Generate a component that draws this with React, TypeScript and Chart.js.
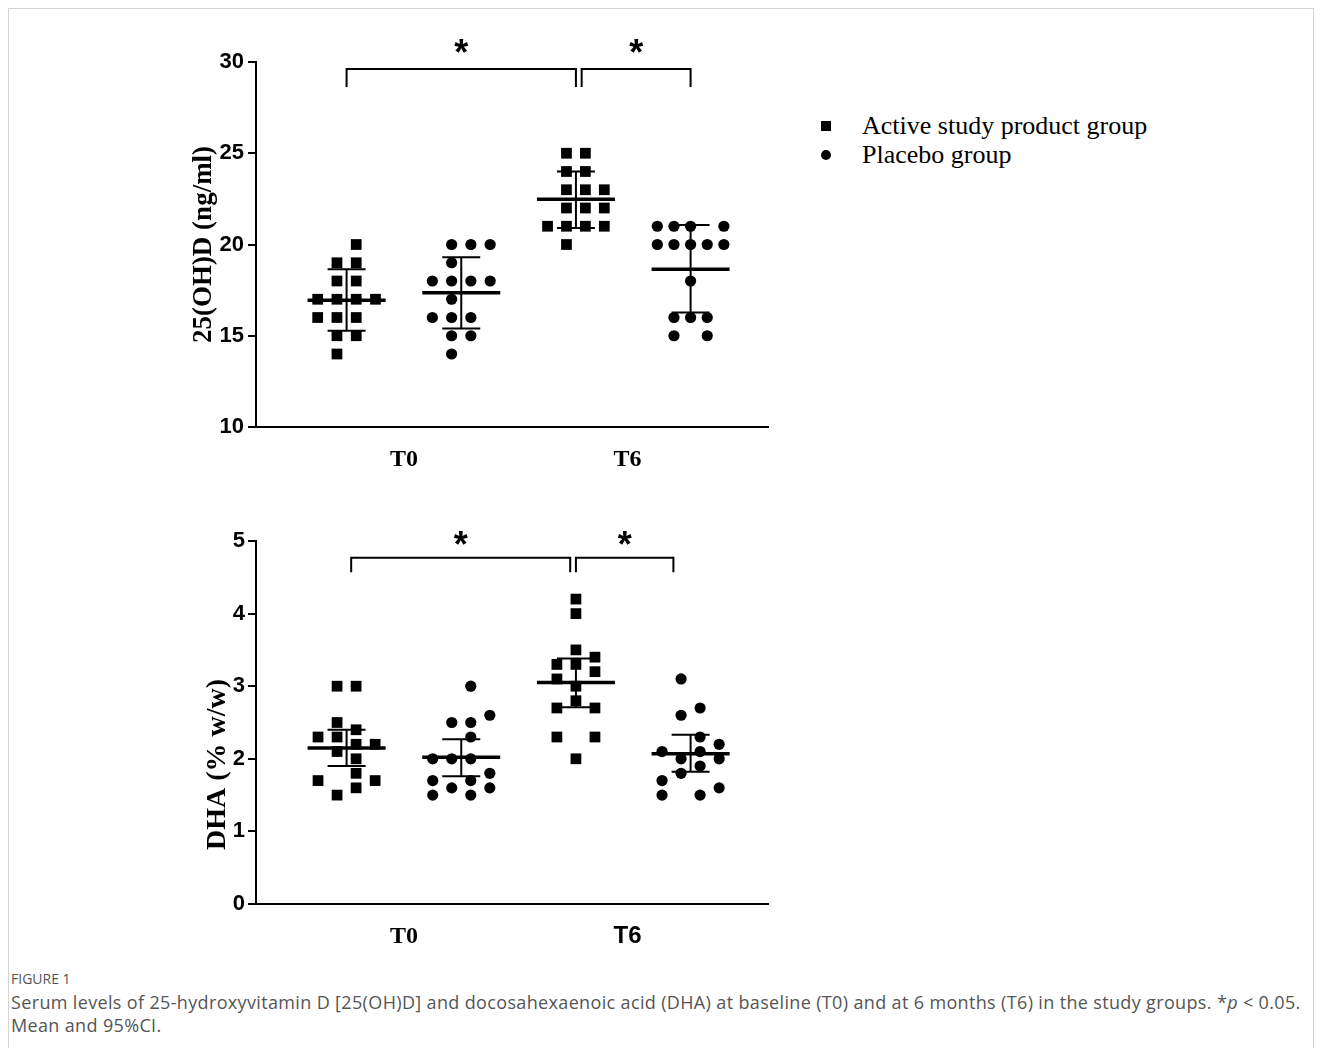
import React, { useEffect, useRef } from 'react';
import { Chart, registerables } from 'chart.js';

Chart.register(...registerables);

// ---------------- data ----------------
const groupNames = ['Active study product group', 'Placebo group'];
const timeLabels = ['T0', 'T6'];
const timeTickValues = [1.5, 3.45];
// order of groups along x: T0 active, T0 placebo, T6 active, T6 placebo
const groupCenters = [1, 2, 3, 4];

// 25(OH)D (ng/ml)
const vitDTicks = [10, 15, 20, 25, 30];
const vitDT0Active = [20, 19, 19, 18, 18, 17, 17, 17, 17, 16, 16, 16, 15, 15, 14];
const vitDT0ActiveCols = [0.5, -0.5, 0.5, -0.5, 0.5, -1.5, -0.5, 0.5, 1.5, -1.5, -0.5, 0.5, -0.5, 0.5, -0.5];
const vitDT0Placebo = [20, 20, 20, 19, 18, 18, 18, 18, 17, 16, 16, 16, 15, 15, 14];
const vitDT0PlaceboCols = [-0.5, 0.5, 1.5, -0.5, -1.5, -0.5, 0.5, 1.5, -0.5, -1.5, -0.5, 0.5, -0.5, 0.5, -0.5];
const vitDT6Active = [25, 25, 24, 24, 23, 23, 23, 22, 22, 22, 21, 21, 21, 21, 20];
const vitDT6ActiveCols = [-0.5, 0.5, -0.5, 0.5, -0.5, 0.5, 1.5, -0.5, 0.5, 1.5, -1.5, -0.5, 0.5, 1.5, -0.5];
const vitDT6Placebo = [21, 21, 21, 21, 20, 20, 20, 20, 20, 18, 16, 16, 16, 15, 15];
const vitDT6PlaceboCols = [-2, -1, 0, 2, -2, -1, 0, 1, 2, 0, -1, 0, 1, -1, 1];
const vitDMean = [16.95, 17.35, 22.48, 18.65];
const vitDLower = [15.27, 15.4, 20.9, 16.28];
const vitDUpper = [18.65, 19.3, 24.0, 21.07];
const vitDBrackets = [[1, 3], [3.05, 4]];
const vitDBracketLevel = 29.62;
const vitDBracketFoot = 28.63;

// DHA (% w/w)
const dhaTicks = [0, 1, 2, 3, 4, 5];
const dhaT0Active = [3.0, 3.0, 2.5, 2.4, 2.3, 2.3, 2.2, 2.2, 2.1, 2.0, 1.8, 1.7, 1.7, 1.6, 1.5];
const dhaT0ActiveCols = [-0.5, 0.5, -0.5, 0.5, -1.5, -0.5, 0.5, 1.5, -0.5, 0.5, 0.5, -1.5, 1.5, 0.5, -0.5];
const dhaT0Placebo = [3.0, 2.6, 2.5, 2.5, 2.3, 2.0, 2.0, 2.0, 1.8, 1.7, 1.7, 1.6, 1.6, 1.5, 1.5];
const dhaT0PlaceboCols = [0.5, 1.5, -0.5, 0.5, 0.5, -1.5, -0.5, 0.5, 1.5, -1.5, 0.5, -0.5, 1.5, -1.5, 0.5];
const dhaT6Active = [4.2, 4.0, 3.5, 3.4, 3.3, 3.3, 3.2, 3.1, 3.0, 2.8, 2.7, 2.7, 2.3, 2.3, 2.0];
const dhaT6ActiveCols = [0, 0, 0, 1, -1, 0, 1, -1, 0, 0, -1, 1, -1, 1, 0];
const dhaT6Placebo = [3.1, 2.7, 2.6, 2.3, 2.2, 2.1, 2.1, 2.0, 2.0, 1.9, 1.8, 1.7, 1.6, 1.5, 1.5];
const dhaT6PlaceboCols = [-0.5, 0.5, -0.5, 0.5, 1.5, -1.5, 0.5, 1.5, -0.5, 0.5, -0.5, -1.5, 1.5, -1.5, 0.5];
const dhaMean = [2.15, 2.02, 3.05, 2.07];
const dhaLower = [1.9, 1.76, 2.71, 1.82];
const dhaUpper = [2.4, 2.27, 3.38, 2.33];
const dhaBrackets = [[1.04, 2.95], [3.0, 3.85]];
const dhaBracketLevel = 4.77;
const dhaBracketFoot = 4.57;

// ---------------- chart building ----------------
const SERIF = '"Liberation Serif", "Times New Roman", serif';
const SANS = '"Liberation Sans", Arial, sans-serif';

type Spec = {
  yTitle: string;
  yMin: number;
  yMax: number;
  yTicks: number[];
  groups: number[][];
  cols: number[][];
  steps: number[];
  mean: number[];
  lower: number[];
  upper: number[];
  brackets: number[][];
  bracketLevel: number;
  bracketFoot: number;
  starGap: number;
  padTop: number;
  xHeight: number;
  titleOffset: number;
  titleShift: number;
  titleSize: number;
  tickPad: number;
  t6Sans: boolean;
};

function makePoints(values: number[], cols: number[], center: number, step: number) {
  return values.map((v, i) => ({ x: center + cols[i] * step, y: v }));
}

function makeSummaryPlugin(spec: Spec) {
  return {
    id: 'summaryBars',
    afterDraw(chart: any) {
      const { ctx, chartArea } = chart;
      const x = chart.scales.x;
      const y = chart.scales.y;
      ctx.save();
      ctx.strokeStyle = '#000';
      ctx.lineCap = 'butt';
      const seg = (x1: number, y1: number, x2: number, y2: number) => {
        ctx.beginPath();
        ctx.moveTo(x1, y1);
        ctx.lineTo(x2, y2);
        ctx.stroke();
      };
      spec.mean.forEach((m, i) => {
        const cx = x.getPixelForValue(groupCenters[i]);
        const my = y.getPixelForValue(m);
        const ly = y.getPixelForValue(spec.lower[i]);
        const uy = y.getPixelForValue(spec.upper[i]);
        ctx.lineWidth = 2;
        seg(cx, uy, cx, ly);
        seg(cx - 19, uy, cx + 19, uy);
        seg(cx - 19, ly, cx + 19, ly);
        ctx.lineWidth = 3.5;
        seg(cx - 39, my, cx + 39, my);
      });
      // significance brackets
      ctx.lineWidth = 2;
      const by = y.getPixelForValue(spec.bracketLevel);
      const fy = y.getPixelForValue(spec.bracketFoot);
      ctx.fillStyle = '#000';
      ctx.font = 'bold 36px ' + SANS;
      ctx.textAlign = 'center';
      ctx.textBaseline = 'alphabetic';
      spec.brackets.forEach(([a, b]) => {
        const xa = x.getPixelForValue(a);
        const xb = x.getPixelForValue(b);
        ctx.beginPath();
        ctx.moveTo(xa, fy);
        ctx.lineTo(xa, by);
        ctx.lineTo(xb, by);
        ctx.lineTo(xb, fy);
        ctx.stroke();
        ctx.fillText('*', (xa + xb) / 2, by - spec.starGap + 20);
      });
      // y-axis title
      ctx.save();
      ctx.translate(chartArea.left - spec.titleOffset, (chartArea.top + chartArea.bottom) / 2 + spec.titleShift);
      ctx.rotate(-Math.PI / 2);
      ctx.font = 'bold ' + spec.titleSize + 'px ' + SERIF;
      ctx.textAlign = 'center';
      ctx.textBaseline = 'middle';
      ctx.fillText(spec.yTitle, 0, 0);
      ctx.restore();
      ctx.restore();
    },
  };
}

function makeConfig(spec: Spec): any {
  const active = [
    ...makePoints(spec.groups[0], spec.cols[0], groupCenters[0], spec.steps[0]),
    ...makePoints(spec.groups[2], spec.cols[2], groupCenters[2], spec.steps[2]),
  ];
  const placebo = [
    ...makePoints(spec.groups[1], spec.cols[1], groupCenters[1], spec.steps[1]),
    ...makePoints(spec.groups[3], spec.cols[3], groupCenters[3], spec.steps[3]),
  ];
  return {
    type: 'scatter',
    data: {
      datasets: [
        {
          label: groupNames[0],
          data: active,
          pointStyle: 'rect',
          pointRadius: 7.6,
          backgroundColor: '#000',
          borderColor: '#000',
          borderWidth: 0,
        },
        {
          label: groupNames[1],
          data: placebo,
          pointStyle: 'circle',
          pointRadius: 5.6,
          backgroundColor: '#000',
          borderColor: '#000',
          borderWidth: 0,
        },
      ],
    },
    options: {
      animation: false,
      responsive: false,
      maintainAspectRatio: false,
      layout: { padding: { top: spec.padTop, right: 32, left: 0, bottom: 0 } },
      plugins: { legend: { display: false }, tooltip: { enabled: false } },
      scales: {
        x: {
          type: 'linear',
          min: 0.21,
          max: 4.675,
          grid: { display: true, drawOnChartArea: false, drawTicks: false },
          border: { display: true, color: '#000', width: 2 },
          afterBuildTicks: (s: any) => {
            s.ticks = timeTickValues.map((v) => ({ value: v }));
          },
          afterFit: (s: any) => {
            s.height = spec.xHeight;
          },
          ticks: {
            autoSkip: false,
            maxRotation: 0,
            padding: 18,
            color: '#000',
            callback: (_v: any, i: number) => timeLabels[i],
            font: (c: any) => ({
              family: spec.t6Sans && c.index === 1 ? SANS : SERIF,
              size: 24,
              weight: 'bold',
            }),
          },
        },
        y: {
          min: spec.yMin,
          max: spec.yMax,
          afterBuildTicks: (s: any) => {
            s.ticks = spec.yTicks.map((v) => ({ value: v }));
          },
          afterFit: (s: any) => {
            s.width = 116;
          },
          grid: { display: true, drawOnChartArea: false, drawTicks: true, tickLength: 8, color: '#000', lineWidth: 2 },
          border: { display: true, color: '#000', width: 2 },
          ticks: {
            padding: spec.tickPad,
            color: '#000',
            font: { family: SANS, size: 22, weight: 'bold' },
          },
        },
      },
    },
    plugins: [makeSummaryPlugin(spec)],
  };
}

const topSpec: Spec = {
  yTitle: '25(OH)D (ng/ml)',
  yMin: 10,
  yMax: 30,
  yTicks: vitDTicks,
  groups: [vitDT0Active, vitDT0Placebo, vitDT6Active, vitDT6Placebo],
  cols: [vitDT0ActiveCols, vitDT0PlaceboCols, vitDT6ActiveCols, vitDT6PlaceboCols],
  steps: [0.168, 0.168, 0.165, 0.145],
  mean: vitDMean,
  lower: vitDLower,
  upper: vitDUpper,
  brackets: vitDBrackets,
  bracketLevel: vitDBracketLevel,
  bracketFoot: vitDBracketFoot,
  starGap: 24,
  padTop: 52,
  xHeight: 63,
  titleOffset: 52,
  titleShift: 0,
  titleSize: 27,
  tickPad: 4,
  t6Sans: false,
};

const bottomSpec: Spec = {
  yTitle: 'DHA (% w/w)',
  yMin: 0,
  yMax: 5,
  yTicks: dhaTicks,
  groups: [dhaT0Active, dhaT0Placebo, dhaT6Active, dhaT6Placebo],
  cols: [dhaT0ActiveCols, dhaT0PlaceboCols, dhaT6ActiveCols, dhaT6PlaceboCols],
  steps: [0.166, 0.166, 0.166, 0.166],
  mean: dhaMean,
  lower: dhaLower,
  upper: dhaUpper,
  brackets: dhaBrackets,
  bracketLevel: dhaBracketLevel,
  bracketFoot: dhaBracketFoot,
  starGap: 21,
  padTop: 51,
  xHeight: 66,
  titleOffset: 38,
  titleShift: 42,
  titleSize: 28,
  tickPad: 3,
  t6Sans: true,
};

function ChartCanvas({ spec, left, top }: { spec: Spec; left: number; top: number }) {
  const ref = useRef<HTMLCanvasElement | null>(null);
  useEffect(() => {
    if (!ref.current) return;
    const chart = new Chart(ref.current, makeConfig(spec));
    return () => chart.destroy();
  }, [spec]);
  return (
    <div style={{ position: 'absolute', left, top, width: 660, height: 480 }}>
      <canvas ref={ref} width={660} height={480} style={{ width: 660, height: 480, display: 'block' }} />
    </div>
  );
}

export default function App() {
  useEffect(() => {
    document.body.style.overflow = 'hidden';
  }, []);
  const legendText: React.CSSProperties = {
    position: 'absolute',
    left: 862,
    fontFamily: SERIF,
    fontSize: 26,
    lineHeight: '30px',
    color: '#000',
    whiteSpace: 'nowrap',
  };
  return (
    <div>
      <div
        style={{
          position: 'absolute',
          left: 8,
          top: 8,
          width: 1306,
          height: 1040,
          boxSizing: 'border-box',
          border: '1px solid #d4d4d4',
          borderBottom: 'none',
        }}
      />
      <ChartCanvas spec={topSpec} left={140} top={10} />
      <ChartCanvas spec={bottomSpec} left={140} top={490} />
      {/* legend */}
      <div style={{ position: 'absolute', left: 821, top: 121, width: 10, height: 10, background: '#000' }} />
      <div style={{ ...legendText, top: 111 }}>{groupNames[0]}</div>
      <div style={{ position: 'absolute', left: 821, top: 150, width: 10, height: 10, borderRadius: '50%', background: '#000' }} />
      <div style={{ ...legendText, top: 140 }}>{groupNames[1]}</div>
      {/* caption */}
      <div
        style={{
          position: 'absolute',
          left: 11,
          top: 970,
          fontFamily: '"Open Sans", sans-serif',
          fontSize: 14,
          lineHeight: '18px',
          color: '#555',
        }}
      >
        FIGURE 1
      </div>
      <div
        style={{
          position: 'absolute',
          left: 11,
          top: 991,
          fontFamily: '"Open Sans", sans-serif',
          fontSize: 18,
          letterSpacing: '0.35px',
          lineHeight: '23px',
          color: '#555',
          whiteSpace: 'nowrap',
        }}
      >
        Serum levels of 25-hydroxyvitamin D [25(OH)D] and docosahexaenoic acid (DHA) at baseline (T0) and at 6 months (T6) in the study groups. *<i>p</i> &lt; 0.05.
        <br />
        Mean and 95%CI.
      </div>
    </div>
  );
}
